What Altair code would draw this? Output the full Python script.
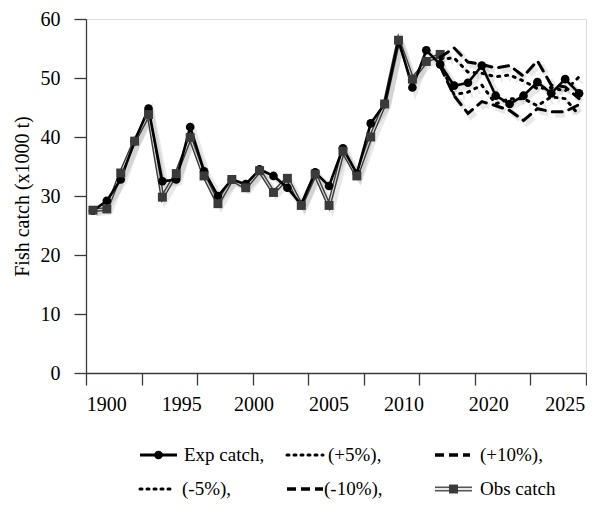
import altair as alt
import pandas as pd

# ---------------- data ----------------
years = list(range(1990, 2026))
obs_years = list(range(1990, 2016))
obs_catch = [27.6, 27.8, 33.9, 39.3, 43.8, 29.8, 33.8, 39.9, 33.4, 28.7,
             32.8, 31.4, 34.3, 30.6, 33.0, 28.4, 33.7, 28.4, 37.6, 33.4,
             40.0, 45.6, 56.4, 49.8, 52.8, 54.0]
exp_catch = [27.5, 29.2, 32.8, 39.3, 44.8, 32.5, 32.8, 41.7, 34.2, 30.0,
             32.8, 32.0, 34.5, 33.4, 31.4, 28.5, 34.0, 31.7, 38.1, 33.8,
             42.3, 45.6, 56.4, 48.4, 54.7, 52.3, 48.7, 49.2, 52.1, 47.0,
             45.6, 47.0, 49.3, 47.4, 49.8, 47.4]
scen_years = list(range(2015, 2026))
plus5 = [53.2, 53.4, 51.0, 50.8, 50.2, 50.5, 49.5, 48.2, 48.4, 47.8, 50.2]
plus10 = [53.5, 55.1, 52.7, 52.3, 51.7, 52.1, 50.3, 52.9, 48.8, 48.5, 46.5]
minus5 = [52.5, 47.2, 47.6, 48.8, 45.6, 46.5, 46.5, 45.3, 46.8, 46.5, 43.7]
minus10 = [52.0, 47.0, 44.0, 46.0, 45.3, 44.5, 42.8, 44.8, 44.3, 44.3, 45.5]

x_tick_labels = ["1900", "1995", "2000", "2005", "2010", "2020", "2025"]
x_tick_label_at = [1991.0, 1996.4, 2001.6, 2007.0, 2012.4, 2018.5, 2024.0]
tick_bounds = [y - 0.5 for y in range(1990, 2027)]
y_ticks = [0, 10, 20, 30, 40, 50, 60]

FONT = "Liberation Serif"
W, H = 500, 354
AX = "#3a3a3a"

exp_df = pd.DataFrame({"year": years, "v": exp_catch})
obs_df = pd.DataFrame({"year": obs_years, "v": obs_catch})

xscale = alt.Scale(domain=[1989.5, 2025.5], nice=False, zero=False)
yscale = alt.Scale(domain=[0, 60], nice=False)

X = alt.X("year:Q", scale=xscale,
          axis=alt.Axis(values=tick_bounds, labels=False, tickSize=12, tickWidth=1.3,
                        tickColor=AX, domainColor=AX, domainWidth=1.3, grid=False, title=None))
Y = alt.Y("v:Q", scale=yscale,
          axis=alt.Axis(values=y_ticks, tickSize=12, tickWidth=1.3, tickColor=AX,
                        domainColor=AX, domainWidth=1.3, grid=False,
                        labelFont=FONT, labelFontSize=20, labelColor="black", labelPadding=14,
                        title="Fish catch (x1000 t)", titleFont=FONT, titleFontSize=20,
                        titleFontWeight="normal", titleColor="black", titlePadding=8))

layers = []

def shadow(df, dash=None):
    kw = dict(color="black", opacity=0.09, strokeWidth=6, xOffset=3, yOffset=3)
    if dash:
        kw["strokeDash"] = dash
    return alt.Chart(df).mark_line(**kw).encode(x=X, y=Y)

# shadows
layers.append(shadow(obs_df))
layers.append(shadow(exp_df))

# observed catch line (double line look)
layers.append(alt.Chart(obs_df).mark_line(color="#3c3c3c", strokeWidth=4).encode(x=X, y=Y))
layers.append(alt.Chart(obs_df).mark_line(color="#cfcfcf", strokeWidth=1.2).encode(x=X, y=Y))
# expected catch
layers.append(alt.Chart(exp_df).mark_line(color="black", strokeWidth=2.6).encode(x=X, y=Y))
layers.append(alt.Chart(exp_df).mark_point(filled=True, shape="circle", size=75, color="black",
                                           opacity=1).encode(x=X, y=Y))
layers.append(alt.Chart(obs_df).mark_point(filled=True, shape="square", size=80, color="#3a3a3a",
                                           opacity=1).encode(x=X, y=Y))

# scenarios
scen = [(plus5, [2, 6]), (plus10, [10, 7]), (minus5, [2, 6]), (minus10, [10, 7])]
for vals, dash in scen:
    df = pd.DataFrame({"year": scen_years, "v": vals})
    layers.append(shadow(df, dash))
for vals, dash in scen:
    df = pd.DataFrame({"year": scen_years, "v": vals})
    layers.append(alt.Chart(df).mark_line(color="black", strokeWidth=3, strokeDash=dash,
                                          strokeCap="round").encode(x=X, y=Y))

# x tick labels
lab_df = pd.DataFrame({"year": x_tick_label_at, "label": x_tick_labels})
layers.append(alt.Chart(lab_df).mark_text(font=FONT, fontSize=20, color="black",
                                          baseline="middle", align="center").encode(
    x=alt.X("year:Q", scale=xscale), y=alt.value(H + 32), text="label:N"))

# ---------------- legend ----------------
legend_labels = ["Exp catch,", "(+5%),", "(+10%),", "(-5%),", "(-10%),", "Obs catch"]
R1, R2 = 436, 470
legend_layout = [  # (line x0, line x1, text x, row y, kind)
    (54, 91, 98, R1, "exp"),
    (201, 237, 242, R1, "dot"),
    (349, 384, 394, R1, "dash"),
    (54, 89, 96, R2, "dot"),
    (201, 237, 238, R2, "dash"),
    (349, 386, 394, R2, "obs"),
]
one = pd.DataFrame({"k": [0]})
for lab, (x0, x1, tx, ry, kind) in zip(legend_labels, legend_layout):
    enc = dict(x=alt.value(x0), x2=alt.value(x1), y=alt.value(ry))
    if kind == "exp":
        layers.append(alt.Chart(one).mark_rule(color="black", strokeWidth=3).encode(**enc))
        layers.append(alt.Chart(one).mark_point(filled=True, size=75, color="black", opacity=1).encode(
            x=alt.value((x0 + x1) / 2), y=alt.value(ry)))
    elif kind == "dot":
        layers.append(alt.Chart(one).mark_rule(color="black", strokeWidth=3, strokeDash=[2, 5],
                                               strokeCap="round").encode(**enc))
    elif kind == "dash":
        layers.append(alt.Chart(one).mark_rule(color="black", strokeWidth=3.5,
                                               strokeDash=[9, 5]).encode(**enc))
    else:
        layers.append(alt.Chart(one).mark_rule(color="#555", strokeWidth=5).encode(**enc))
        layers.append(alt.Chart(one).mark_rule(color="#e8e8e8", strokeWidth=2).encode(**enc))
        layers.append(alt.Chart(one).mark_point(filled=True, shape="square", size=80, color="#3a3a3a",
                                                opacity=1).encode(x=alt.value((x0 + x1) / 2), y=alt.value(ry)))
    t = pd.DataFrame({"label": [lab]})
    layers.append(alt.Chart(t).mark_text(font=FONT, fontSize=19, color="black", align="left",
                                         baseline="middle").encode(
        x=alt.value(tx), y=alt.value(ry), text="label:N"))

chart = alt.layer(*layers).properties(
    width=W, height=H,
    autosize=alt.AutoSizeParams(type="none"),
    padding={"left": 78, "top": 11, "right": 1, "bottom": 127},
).configure_view(stroke=None).configure(background="white")

chart.save("out.html", embed_options={"renderer": "svg", "actions": False})
